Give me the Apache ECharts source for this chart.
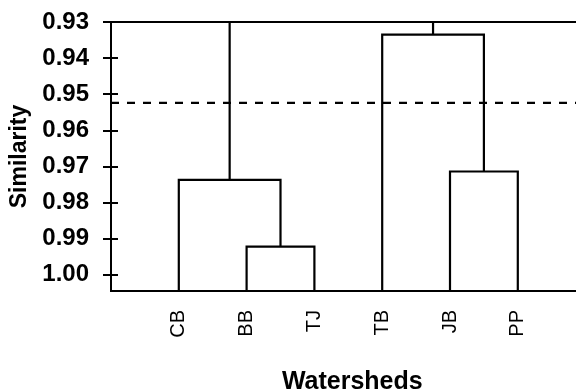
<!DOCTYPE html>
<html>
<head>
<meta charset="utf-8">
<script src="https://cdn.jsdelivr.net/npm/echarts@6/dist/echarts.min.js"></script>
<style>html,body{margin:0;padding:0;background:#fff;}#c{width:576px;height:390px;}</style>
</head>
<body>
<div id="c"></div>
<script>
// Leaves (watersheds) in dendrogram order
const leaves = ['CB', 'BB', 'TJ', 'TB', 'JB', 'PP'];
// Merges: pairs of node ids (0-5 leaves, 6+ merged clusters in order)
const mergePairs = [[1, 2], [0, 6], [4, 5], [3, 8], [7, 9]];
// Similarity level of each merge
const mergeHeights = [0.9922, 0.9737, 0.9714, 0.9335, 0.93];
// Cut-off similarity (dashed line)
const cutoff = 0.9524;
// Y tick labels
const yTicks = [0.93, 0.94, 0.95, 0.96, 0.97, 0.98, 0.99, 1.00];
const yMin = 0.93, yMax = 1.0045;

// Build link rows: [xLeft, xRight, yLeft, yRight, yMerge]
const nodeX = leaves.map((_, i) => i + 1);
const nodeY = leaves.map(() => yMax);
const links = [];
mergePairs.forEach((p, k) => {
  const a = p[0], b = p[1], h = mergeHeights[k];
  links.push([nodeX[a], nodeX[b], nodeY[a], nodeY[b], h]);
  nodeX.push((nodeX[a] + nodeX[b]) / 2);
  nodeY.push(h);
});

const font = 'Liberation Sans, Arial, sans-serif';
const chart = echarts.init(document.getElementById('c'));
chart.setOption({
  animation: false,
  backgroundColor: '#fff',
  grid: {
    left: 111, top: 22, width: 474.6, height: 269,
    show: true, borderColor: '#000', borderWidth: 2, backgroundColor: 'transparent',
    outerBoundsMode: 'none'
  },
  xAxis: {
    type: 'value', min: 0, max: leaves.length + 1,
    name: 'Watersheds', nameLocation: 'middle', nameGap: 79,
    nameTextStyle: { fontFamily: font, fontSize: 25, fontWeight: 'bold', color: '#000', padding: [0, 0, 0, 8] },
    axisLine: { show: false }, axisTick: { show: false }, splitLine: { show: false },
    axisLabel: {
      customValues: leaves.map((_, i) => i + 1),
      formatter: v => leaves[Math.round(v) - 1] || '',
      rotate: 90, margin: 19, fontFamily: font, fontSize: 20, color: '#000'
    }
  },
  yAxis: [{
    type: 'value', inverse: true, min: yMin, max: yMax,
    name: 'Similarity', nameLocation: 'middle', nameGap: 76,
    nameTextStyle: { fontFamily: font, fontSize: 23, fontWeight: 'bold', color: '#000' },
    axisLine: { show: false }, splitLine: { show: false },
    axisTick: { show: true, customValues: yTicks, length: 8, inside: false, lineStyle: { color: '#000', width: 2 } },
    axisLabel: {
      customValues: yTicks, formatter: v => v.toFixed(2),
      margin: 22, fontFamily: font, fontSize: 24, fontWeight: 'bold', color: '#000'
    }
  }, {
    type: 'value', inverse: true, min: yMin, max: yMax, position: 'left',
    axisLine: { show: false }, splitLine: { show: false }, axisLabel: { show: false },
    axisTick: { show: true, customValues: yTicks, length: 7, inside: true, lineStyle: { color: '#000', width: 2 } }
  }],
  series: [{
    type: 'custom',
    data: links,
    encode: { x: [0, 1], y: [2, 3, 4] },
    renderItem: function (params, api) {
      const x1 = api.value(0), x2 = api.value(1), yl = api.value(2), yr = api.value(3), ym = api.value(4);
      const pts = [api.coord([x1, yl]), api.coord([x1, ym]), api.coord([x2, ym]), api.coord([x2, yr])];
      return { type: 'polyline', shape: { points: pts }, style: { stroke: '#000', lineWidth: 2.2, fill: null } };
    }
  }, {
    type: 'line',
    data: [[0, cutoff], [leaves.length + 1, cutoff]],
    symbol: 'none',
    lineStyle: { color: '#000', width: 2.2, type: [8, 8] }
  }]
});
</script>
</body>
</html>
